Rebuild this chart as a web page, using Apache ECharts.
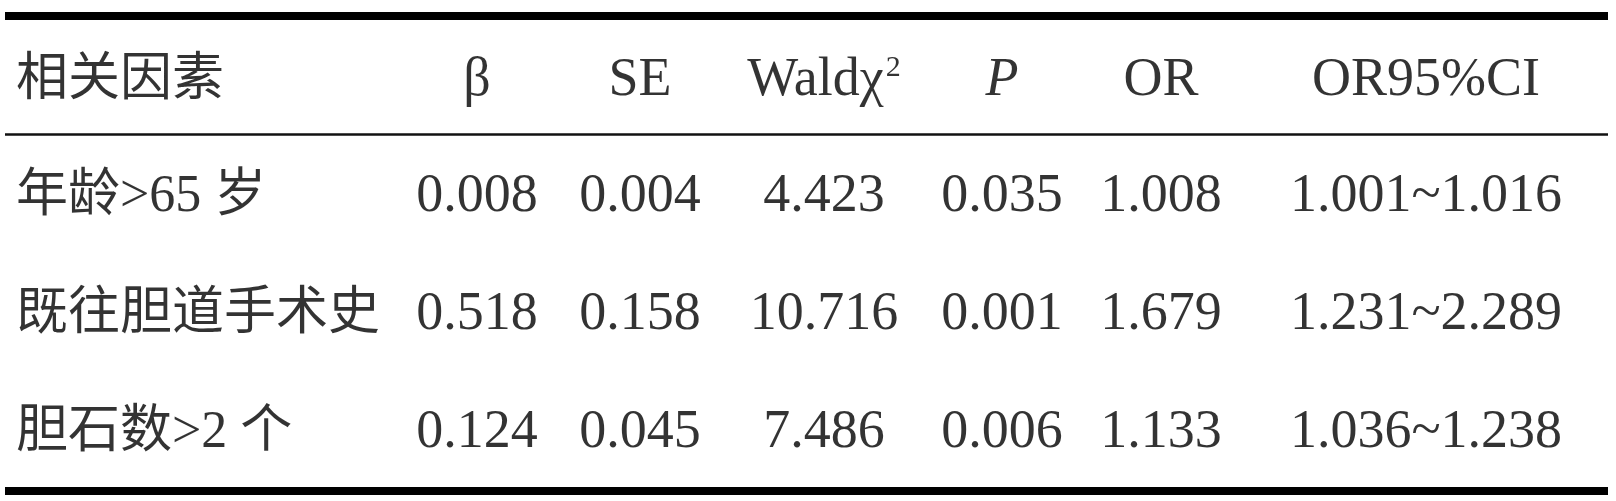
<!DOCTYPE html>
<html>
<head>
<meta charset="utf-8">
<script src="https://cdn.jsdelivr.net/npm/echarts@6/dist/echarts.min.js"></script>
<style>
html,body{margin:0;padding:0;background:#fff;}
#chart{width:1616px;height:501px;}
</style>
</head>
<body>
<div id="chart"></div>
<script>
// ---- data ----
const headers = ['相关因素', 'β', 'SE', 'Waldχ2', 'P', 'OR', 'OR95%CI'];
const factors = ['年龄>65 岁', '既往胆道手术史', '胆石数>2 个'];
const beta = ['0.008', '0.518', '0.124'];
const se = ['0.004', '0.158', '0.045'];
const wald = ['4.423', '10.716', '7.486'];
const pValues = ['0.035', '0.001', '0.006'];
const orValues = ['1.008', '1.679', '1.133'];
const orCI = ['1.001~1.016', '1.231~2.289', '1.036~1.238'];

// ---- layout (pixel-like coordinates on hidden value axes) ----
const colX = [16, 477, 640, 824, 1002, 1161, 1426];
const rowY = [81, 197, 315, 433];
const ruleY = { top: 15.5, mid: 134, bottom: 491 };
const ruleX = [5, 1608];

const FONT = "'Liberation Serif', 'Times New Roman', 'Noto Sans CJK SC', serif";
const FS = 54;
const FS_CJK = 52;

const columns = [factors, beta, se, wald, pValues, orValues, orCI];

const cells = [];
headers.forEach((h, c) => {
  let fmt = h;
  if (c === 3) {
    fmt = '{a|Waldχ}{s|2}';
  } else if (c === 4) {
    fmt = '{i|' + h + '}';
  }
  cells.push({
    value: [colX[c], rowY[0]],
    label: { formatter: fmt, align: c === 0 ? 'left' : 'center', fontSize: c === 0 ? FS_CJK : FS }
  });
});
columns.forEach((col, c) => {
  col.forEach((txt, r) => {
    cells.push({
      value: [colX[c], rowY[r + 1]],
      label: { formatter: txt, align: c === 0 ? 'left' : 'center', fontSize: c === 0 ? FS_CJK : FS }
    });
  });
});

const chart = echarts.init(document.getElementById('chart'), null, { renderer: 'canvas' });
chart.setOption({
  backgroundColor: '#ffffff',
  animation: false,
  grid: { left: 0, right: 0, top: 0, bottom: 0 },
  xAxis: { type: 'value', min: 0, max: 1616, show: false },
  yAxis: { type: 'value', min: 0, max: 501, inverse: true, show: false },
  series: [{
    type: 'scatter',
    symbolSize: 1,
    itemStyle: { color: 'rgba(0,0,0,0)' },
    data: cells,
    label: {
      show: true,
      position: 'inside',
      verticalAlign: 'middle',
      color: '#000',
      fontFamily: FONT,
      fontSize: FS,
      rich: {
        a: { fontFamily: FONT, fontSize: FS, color: '#000' },
        s: { fontFamily: FONT, fontSize: 30, color: '#000', padding: [0, 0, 26, 2] },
        i: { fontFamily: FONT, fontSize: FS, color: '#000', fontStyle: 'italic' }
      }
    },
    markLine: {
      silent: true,
      symbol: 'none',
      label: { show: false },
      data: [
        [{ coord: [ruleX[0], ruleY.top], lineStyle: { width: 8, color: '#000', type: 'solid' } }, { coord: [ruleX[1], ruleY.top] }],
        [{ coord: [ruleX[0], ruleY.mid], lineStyle: { width: 2.5, color: '#111', type: 'solid' } }, { coord: [ruleX[1], ruleY.mid] }],
        [{ coord: [ruleX[0], ruleY.bottom], lineStyle: { width: 8, color: '#000', type: 'solid' } }, { coord: [ruleX[1], ruleY.bottom] }]
      ]
    }
  }]
});
</script>
</body>
</html>
